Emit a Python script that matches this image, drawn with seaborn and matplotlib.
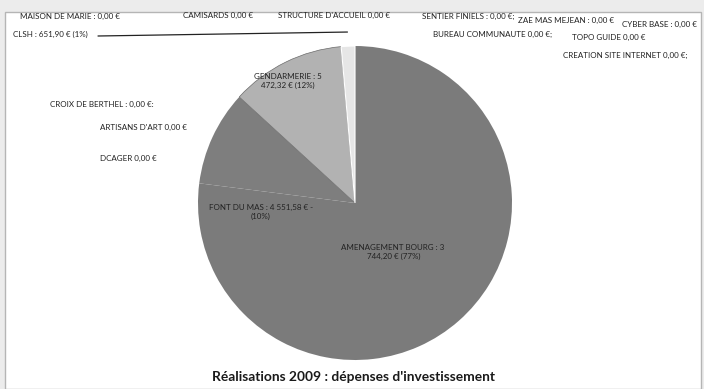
import matplotlib
matplotlib.use("Agg")
import matplotlib.pyplot as plt
import seaborn as sns
import numpy as np
from matplotlib.patches import Rectangle

sns.set_theme(style="white")
plt.rcParams['font.family'] = ['Lato', 'DejaVu Sans']

# ---- data ----
pie_labels = ["AMENAGEMENT BOURG", "FONT DU MAS", "GENDARMERIE", "CLSH"]
pie_values = [35744.20, 4551.58, 5472.32, 651.90]
pie_pcts = [77, 10, 12, 1]

zero_labels = ["MAISON DE MARIE", "CAMISARDS", "STRUCTURE D'ACCUEIL", "SENTIER FINIELS",
               "ZAE MAS MEJEAN", "CYBER BASE", "BUREAU COMMUNAUTE", "TOPO GUIDE",
               "CREATION SITE INTERNET", "CROIX DE BERTHEL", "ARTISANS D'ART", "DCAGER"]
zero_values = [0.0] * len(zero_labels)
zero_seps = [" : ", " ", " ", " : ", " : ", " : ", " ", " ", " ", " : ", " ", " "]
zero_tail = ["", "", "", ";", "", "", ";", "", ";", ":", "", ""]

title = "Réalisations 2009 : dépenses d'investissement"

W, H = 704, 389
fig = plt.figure(figsize=(W / 100, H / 100), dpi=100)
fig.patch.set_facecolor("#ececec")
fig.patches.append(Rectangle((5 / W, 0), 696 / W, (H - 12) / H, transform=fig.transFigure,
                             facecolor="white", edgecolor="#b5b5b5", lw=1.0, zorder=-5))

def fmt(v):
    s = f"{v:,.2f}".replace(",", " ").replace(".", ",")
    return s + " €"

cx, cy, r = 355, 203, 157
ax = fig.add_axes([(cx - r) / W, (H - cy - r) / H, 2 * r / W, 2 * r / H])
ax.set_zorder(2)
ax.patch.set_alpha(0)
colors = ["#7b7b7b", "#7e7e7e", "#b2b2b2", "#e6e6e6"]
wedges, _ = ax.pie(pie_values, colors=colors, startangle=90, counterclock=False,
                   wedgeprops=dict(linewidth=0))
wedges[2].set_edgecolor("#6a6a6a")
wedges[2].set_linewidth(0.5)
wedges[3].set_edgecolor("white")
wedges[3].set_linewidth(0.8)
ax.set_aspect("equal")
ax.set_xlim(-1, 1)
ax.set_ylim(-1, 1)
ax.axis("off")

fs = 5.8
tc = "#222222"
# in-slice labels (positions in pie radius units)
ax.text(0.24, -0.31, f"{pie_labels[0]} : 3\n{fmt(pie_values[0])[2:]} ({pie_pcts[0]}%)",
        ha="center", va="center", fontsize=fs, color=tc, linespacing=1.3)
ax.text(-0.60, -0.06, f"{pie_labels[1]} : {fmt(pie_values[1])} -\n({pie_pcts[1]}%)",
        ha="center", va="center", fontsize=fs, color=tc, linespacing=1.3)
ax.text(-0.43, 0.78, f"{pie_labels[2]} : 5\n{fmt(pie_values[2])[2:]} ({pie_pcts[2]}%)",
        ha="center", va="center", fontsize=fs, color=tc, linespacing=1.3)

# CLSH label with leader line
w = wedges[3]
mid = np.deg2rad((w.theta1 + w.theta2) / 2)
tip = (np.cos(mid) * 1.09, np.sin(mid) * 1.09)
fig.text(13 / W, 1 - 34 / H, f"{pie_labels[3]} : {fmt(pie_values[3])} ({pie_pcts[3]}%)",
         ha="left", va="center", fontsize=fs, color=tc)
ax.annotate("", xy=tip, xytext=((98 - cx) / r, (cy - 36) / r),
            arrowprops=dict(arrowstyle="-", color="#222222", lw=0.9, shrinkA=0, shrinkB=0),
            annotation_clip=False)

# zero-value labels (left x, center y in pixels)
zpos = [(20, 16), (183, 15), (278, 15), (422, 16), (518, 20), (622, 24),
        (433, 34), (572, 37), (563, 55), (50, 104), (100, 127), (100, 158)]
for name, v, sep, tail, (px, py) in zip(zero_labels, zero_values, zero_seps, zero_tail, zpos):
    fig.text(px / W, 1 - py / H, f"{name}{sep}{fmt(v)}{tail}", ha="left", va="center",
             fontsize=fs, color=tc)

fig.text(353 / W, 1 - 377 / H, title, ha="center", va="center", fontsize=9.9,
         fontweight="bold", color="#1a1a1a")

fig.savefig("out.png", dpi=100, facecolor=fig.get_facecolor())
